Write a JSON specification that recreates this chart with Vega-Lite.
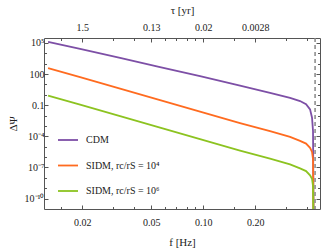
{
  "$schema": "https://vega.github.io/schema/vega-lite/v6.json",
  "width": 276,
  "height": 171,
  "autosize": "none",
  "padding": {"left": 44, "top": 38, "right": 11, "bottom": 40},
  "background": "white",
  "config": {
    "font": "Liberation Serif",
    "view": {"stroke": "#555", "strokeWidth": 1},
    "axis": {
      "domain": false, "grid": false, "tickColor": "#555", "tickWidth": 1,
      "labelColor": "#222", "titleColor": "#222",
      "labelFont": "Liberation Serif", "titleFont": "Liberation Serif",
      "labelFontSize": 10, "titleFontSize": 11, "titleFontWeight": "normal"
    }
  },
  "datasets": {
    "curves": [
      {"f": 0.01267, "dpsi": 125900, "model": "CDM"},
      {"f": 0.0194, "dpsi": 26300, "model": "CDM"},
      {"f": 0.03304, "dpsi": 3630, "model": "CDM"},
      {"f": 0.05625, "dpsi": 479, "model": "CDM"},
      {"f": 0.09577, "dpsi": 63.1, "model": "CDM"},
      {"f": 0.1631, "dpsi": 7.94, "model": "CDM"},
      {"f": 0.2432, "dpsi": 1.585, "model": "CDM"},
      {"f": 0.3175, "dpsi": 0.501, "model": "CDM"},
      {"f": 0.3627, "dpsi": 0.251, "model": "CDM"},
      {"f": 0.3929, "dpsi": 0.126, "model": "CDM"},
      {"f": 0.4144, "dpsi": 0.0398, "model": "CDM"},
      {"f": 0.4254, "dpsi": 0.00631, "model": "CDM"},
      {"f": 0.4311, "dpsi": 0.000316, "model": "CDM"},
      {"f": 0.4345, "dpsi": 1e-13, "model": "CDM"},
      {"f": 0.01267, "dpsi": 371.5, "model": "SIDM, rc/rS = 10⁴"},
      {"f": 0.0194, "dpsi": 50.1, "model": "SIDM, rc/rS = 10⁴"},
      {"f": 0.03304, "dpsi": 3.98, "model": "SIDM, rc/rS = 10⁴"},
      {"f": 0.05625, "dpsi": 0.316, "model": "SIDM, rc/rS = 10⁴"},
      {"f": 0.09577, "dpsi": 0.024, "model": "SIDM, rc/rS = 10⁴"},
      {"f": 0.1631, "dpsi": 0.001905, "model": "SIDM, rc/rS = 10⁴"},
      {"f": 0.2432, "dpsi": 0.000324, "model": "SIDM, rc/rS = 10⁴"},
      {"f": 0.3175, "dpsi": 8.91e-5, "model": "SIDM, rc/rS = 10⁴"},
      {"f": 0.3627, "dpsi": 3.63e-5, "model": "SIDM, rc/rS = 10⁴"},
      {"f": 0.3929, "dpsi": 2.0e-5, "model": "SIDM, rc/rS = 10⁴"},
      {"f": 0.4144, "dpsi": 7.94e-6, "model": "SIDM, rc/rS = 10⁴"},
      {"f": 0.4254, "dpsi": 3.16e-6, "model": "SIDM, rc/rS = 10⁴"},
      {"f": 0.4311, "dpsi": 6.31e-7, "model": "SIDM, rc/rS = 10⁴"},
      {"f": 0.4352, "dpsi": 1e-14, "model": "SIDM, rc/rS = 10⁴"},
      {"f": 0.01267, "dpsi": 0.832, "model": "SIDM, rc/rS = 10⁶"},
      {"f": 0.0194, "dpsi": 0.112, "model": "SIDM, rc/rS = 10⁶"},
      {"f": 0.03304, "dpsi": 0.00891, "model": "SIDM, rc/rS = 10⁶"},
      {"f": 0.05625, "dpsi": 0.000708, "model": "SIDM, rc/rS = 10⁶"},
      {"f": 0.09577, "dpsi": 5.37e-5, "model": "SIDM, rc/rS = 10⁶"},
      {"f": 0.1631, "dpsi": 4.27e-6, "model": "SIDM, rc/rS = 10⁶"},
      {"f": 0.2432, "dpsi": 7.24e-7, "model": "SIDM, rc/rS = 10⁶"},
      {"f": 0.3175, "dpsi": 2.0e-7, "model": "SIDM, rc/rS = 10⁶"},
      {"f": 0.3627, "dpsi": 8.13e-8, "model": "SIDM, rc/rS = 10⁶"},
      {"f": 0.3929, "dpsi": 4.47e-8, "model": "SIDM, rc/rS = 10⁶"},
      {"f": 0.4144, "dpsi": 1.78e-8, "model": "SIDM, rc/rS = 10⁶"},
      {"f": 0.4254, "dpsi": 7.94e-9, "model": "SIDM, rc/rS = 10⁶"},
      {"f": 0.4311, "dpsi": 1.585e-9, "model": "SIDM, rc/rS = 10⁶"},
      {"f": 0.4352, "dpsi": 1e-15, "model": "SIDM, rc/rS = 10⁶"}
    ]
  },
  "data": {"name": "curves"},
  "layer": [
    {
      "mark": {"type": "line", "clip": true, "strokeWidth": 1.8},
      "encoding": {
        "x": {
          "field": "f", "type": "quantitative",
          "scale": {"type": "log", "domain": [0.012, 0.473], "nice": false},
          "axis": {"orient": "bottom", "values": [0.02, 0.05, 0.1, 0.2], "format": ".2f",
                   "tickSize": -4, "labelPadding": 12, "title": "f [Hz]", "titlePadding": 9}
        },
        "y": {
          "field": "dpsi", "type": "quantitative",
          "scale": {"type": "log", "domain": [1e-11, 3e5], "nice": false},
          "axis": {"orient": "left", "values": [1e-10, 1e-7, 1e-4, 0.1, 100, 100000],
                   "labelExpr": "datum.value > 1e4 ? '10⁵' : datum.value > 10 ? '100' : datum.value > 0.01 ? '0.1' : datum.value > 1e-5 ? '10⁻⁴' : datum.value > 1e-8 ? '10⁻⁷' : '10⁻¹⁰'",
                   "tickSize": -4, "labelPadding": 4, "title": "ΔΨ", "titlePadding": 6}
        },
        "color": {
          "field": "model", "type": "nominal",
          "scale": {"domain": ["CDM", "SIDM, rc/rS = 10⁴", "SIDM, rc/rS = 10⁶"],
                    "range": ["#7d4fa6", "#ff6b1f", "#8cc320"]},
          "legend": {"orient": "none", "legendX": 13, "legendY": 91, "title": null,
                     "symbolType": "stroke", "symbolSize": 400, "symbolStrokeWidth": 1.8,
                     "labelFont": "Liberation Serif", "labelFontSize": 10, "labelColor": "#222",
                     "labelOffset": 7, "rowPadding": 9.5, "padding": 0}
        }
      }
    },
    {
      "data": {"values": [{"f": 0.443}]},
      "mark": {"type": "rule", "strokeDash": [4, 3], "color": "#888", "strokeWidth": 1.5},
      "encoding": {"x": {"field": "f", "type": "quantitative", "axis": null}}
    },
    {
      "mark": {"type": "point", "opacity": 0},
      "encoding": {
        "x": {"field": "f", "type": "quantitative",
              "axis": {"orient": "bottom", "values": [0.015, 0.03, 0.04, 0.06, 0.07, 0.08, 0.09, 0.15, 0.3, 0.4],
                       "labels": false, "tickSize": -2.5, "title": null}},
        "y": {"field": "dpsi", "type": "quantitative",
              "axis": {"orient": "left", "values": [1e-9, 1e-8, 1e-6, 1e-5, 0.001, 0.01, 1, 10, 1000, 10000],
                       "labels": false, "tickSize": -2.5, "title": null}}
      }
    },
    {
      "mark": {"type": "point", "opacity": 0},
      "encoding": {
        "x": {"field": "f", "type": "quantitative",
              "axis": {"orient": "top", "values": [0.02, 0.05, 0.1, 0.2],
                       "labelExpr": "datum.value < 0.03 ? '1.5' : datum.value < 0.07 ? '0.13' : datum.value < 0.15 ? '0.02' : '0.0028'",
                       "tickSize": -4, "labelPadding": 10, "title": "τ [yr]", "titlePadding": 7}},
        "y": {"field": "dpsi", "type": "quantitative",
              "axis": {"orient": "right", "values": [1e-10, 1e-7, 1e-4, 0.1, 100, 100000],
                       "labels": false, "tickSize": -4, "title": null}}
      }
    },
    {
      "mark": {"type": "point", "opacity": 0},
      "encoding": {
        "x": {"field": "f", "type": "quantitative",
              "axis": {"orient": "top", "values": [0.015, 0.03, 0.04, 0.06, 0.07, 0.08, 0.09, 0.15, 0.3, 0.4],
                       "labels": false, "tickSize": -2.5, "title": null}},
        "y": {"field": "dpsi", "type": "quantitative",
              "axis": {"orient": "right", "values": [1e-9, 1e-8, 1e-6, 1e-5, 0.001, 0.01, 1, 10, 1000, 10000],
                       "labels": false, "tickSize": -2.5, "title": null}}
      }
    }
  ],
  "resolve": {"axis": {"x": "independent", "y": "independent"}}
}
